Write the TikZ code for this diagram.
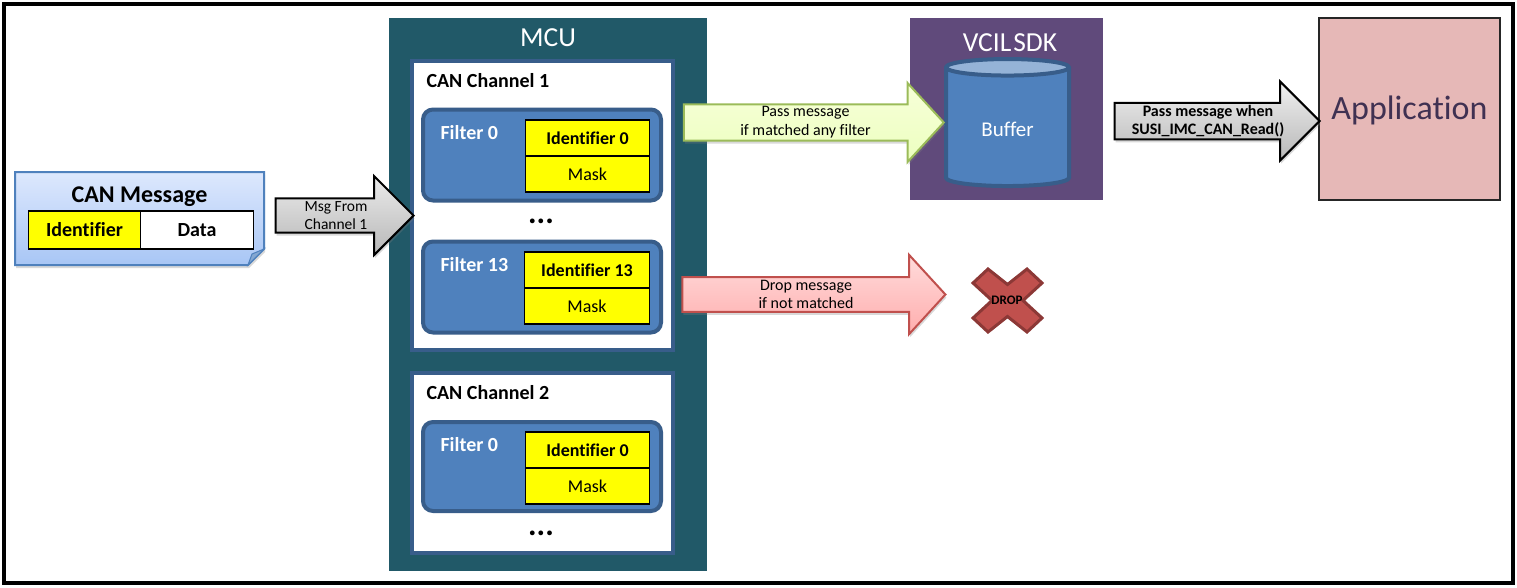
\documentclass[tikz,border=0pt]{standalone}
\usepackage{fontspec}
\setmainfont[Ligatures=NoCommon]{Carlito}
\usetikzlibrary{shapes.arrows, shapes.geometric, shadows}

\definecolor{mcuteal}{HTML}{215968}
\definecolor{sdkpurple}{HTML}{604A7B}
\definecolor{boxblue}{HTML}{4F81BD}
\definecolor{edgeblue}{HTML}{385D8A}
\definecolor{apppink}{HTML}{E6B8B7}
\definecolor{appink}{HTML}{403152}
\definecolor{cellyellow}{RGB}{255,255,0}
\definecolor{dropred}{HTML}{C0504D}
\definecolor{dropedge}{HTML}{8C3836}
\definecolor{passedge}{HTML}{9BBB59}
\definecolor{notetop}{HTML}{DDE8FD}
\definecolor{notebottom}{HTML}{A8C6F5}

\newcommand{\fsize}[1]{\fontsize{#1}{18.7}\selectfont}

\tikzset{
    softshadow/.style={drop shadow={shadow xshift=1pt, shadow yshift=-3pt, opacity=0.3}},
    bigarrow/.style={single arrow, draw, line width=2pt, softshadow, inner sep=0pt, outer sep=0pt,
        single arrow head extend=20pt, minimum height=#1, minimum width=79pt, align=center, font=\fsize{16}},
    channel/.style={draw=edgeblue, fill=white, line width=4pt, minimum width=261pt},
    filterbox/.style={draw=edgeblue, fill=boxblue, line width=4pt, rounded corners=10pt,
        minimum width=238pt, minimum height=91pt},
    yellowcell/.style={draw=black, fill=cellyellow, line width=1.7pt, minimum width=124pt, minimum height=36pt},
    celltext/.style={font=\fsize{18}},
    cellhead/.style={font=\fsize{18}\bfseries},
    headtext/.style={anchor=west, font=\fsize{20}\bfseries},
    paneltitle/.style={text=white, font=\fsize{27.5}}
}

\begin{document}
\begin{tikzpicture}[x=1pt, y=-1pt]
    \useasboundingbox (0, 0) rectangle (1517, 587);
    \node[draw, line width=4pt, minimum width=1509pt, minimum height=579pt] (frame) at (758.5, 293.5) {};

    % can message
    \draw[draw=boxblue, line width=2pt, top color=notetop, bottom color=notebottom, softshadow]
        (15, 172) -- (264, 172) -- (264, 249) -- (248, 265) -- (15, 265) -- cycle;
    \draw[draw=boxblue, fill=boxblue!70, line width=1pt] (248, 265) -- (252, 254) -- (264, 249) -- cycle;
    \node[font=\fsize{24}\bfseries] (msgtitle) at (139.5, 197) {CAN Message};
    \node[yellowcell, minimum width=112pt, minimum height=38pt, font=\fsize{20}\bfseries] (msgid) at (84.5, 230) {Identifier};
    \node[yellowcell, fill=white, minimum width=113pt, minimum height=38pt, font=\fsize{20}\bfseries] (msgdata) at (197, 230) {Data};

    % mcu
    \node[fill=mcuteal, minimum width=318pt, minimum height=553pt] (mcu) at (548, 294.5) {};
    \node[paneltitle] (mcutitle) at (548, 38) {MCU};

    \node[channel, minimum height=289pt] (chan1) at (542.5, 205.5) {};
    \node[headtext] (chan1title) at (423, 81) {CAN Channel 1};
    \node[filterbox] (filter1) at (542, 155) {};
    \node[headtext, text=white] (filter1title) at (437, 133) {Filter 0};
    \node[yellowcell, cellhead] (ident1) at (587.5, 138) {Identifier 0};
    \node[yellowcell, celltext] (mask1) at (587.5, 174) {Mask};
    \node[font=\fsize{32}\bfseries] (dots1) at (541, 221) {...};
    \node[filterbox] (filter2) at (542, 287) {};
    \node[headtext, text=white] (filter2title) at (437, 265) {Filter 13};
    \node[yellowcell, cellhead, minimum width=125pt] (ident2) at (587, 270) {Identifier 13};
    \node[yellowcell, celltext, minimum width=125pt] (mask2) at (587, 306) {Mask};

    \node[channel, minimum height=180pt] (chan2) at (542.5, 463) {};
    \node[headtext] (chan2title) at (423, 393) {CAN Channel 2};
    \node[filterbox, minimum height=89pt] (filter3) at (542, 466.5) {};
    \node[headtext, text=white] (filter3title) at (437, 445) {Filter 0};
    \node[yellowcell, cellhead] (ident3) at (587.5, 450) {Identifier 0};
    \node[yellowcell, celltext] (mask3) at (587.5, 486) {Mask};
    \node[font=\fsize{32}\bfseries] (dots2) at (541, 533) {...};

    % sdk
    \node[fill=sdkpurple, minimum width=193pt, minimum height=182pt] (sdk) at (1006.5, 109) {};
    \node[paneltitle] (sdktitle) at (1010, 43) {\spaceskip=2pt\relax VCIL SDK};
    \node[cylinder, shape border rotate=90, aspect=0.28, draw=edgeblue, line width=4pt, cylinder uses custom fill,
        cylinder body fill=boxblue, cylinder end fill=boxblue!60!white, minimum width=123pt, minimum height=127pt,
        text=white, font=\fsize{21}] (buffer) at (1007.5, 129) {Buffer};

    % application
    \node[draw=black!85, fill=apppink, line width=2pt, minimum width=181pt, minimum height=182pt,
        text=appink, font=\fsize{34}, text height=29pt, text depth=8pt] (app) at (1409.5, 109) {Application};

    % drop
    \draw[draw=dropedge, fill=dropred, line width=3pt]
        (1007.5, 284.5) -- (1027, 269) -- (1042, 283) -- (1023, 300.5) -- (1042, 318) -- (1027, 332)
        -- (1007.5, 316.5) -- (988, 332) -- (973, 318) -- (992, 300.5) -- (973, 283) -- (988, 269) -- cycle;
    \node[font=\fsize{13}\bfseries] (drop) at (1007, 300) {DROP};

    % arrows
    \node[bigarrow=138pt, draw=black, top color=black!8, bottom color=black!28, font=\fsize{15.5}] (msgarrow) at (336, 215.5) {Msg From\\Channel 1};
    \node[bigarrow=260pt, draw=passedge, top color=green!20!yellow!15!white, bottom color=green!30!yellow!25!white, single arrow tip angle=95] (passarrow) at (805.5, 122.5) {Pass message\\if matched any filter};
    \node[bigarrow=263pt, draw=dropred, top color=red!14!white, bottom color=red!32!white, single arrow tip angle=95] (droparrow) at (806, 294.5) {Drop message\\if not matched};
    \node[bigarrow=205pt, draw=black, top color=black!6, bottom color=black!28, font=\fsize{16}\bfseries] (readarrow) at (1208, 121) {Pass message when\\SUSI\_IMC\_CAN\_Read()};
\end{tikzpicture}
\end{document}
